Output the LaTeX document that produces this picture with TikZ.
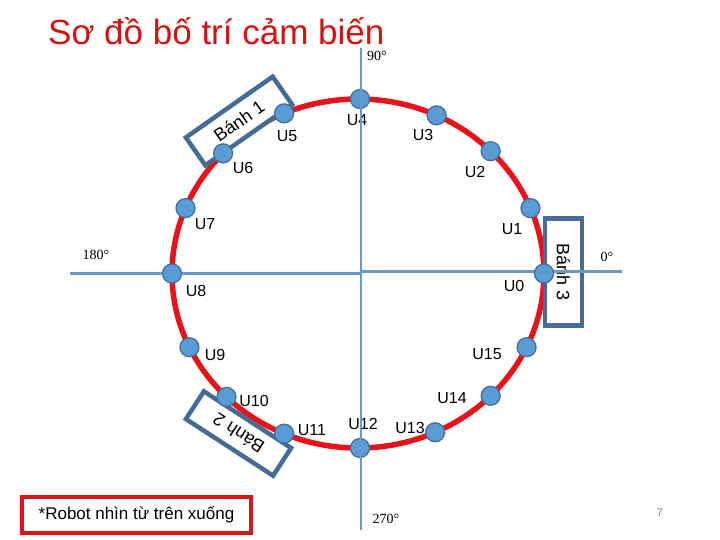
\documentclass[tikz,border=0pt]{standalone}
\usepackage{fontspec}
\setmainfont{Liberation Sans}
\newfontfamily\degfont{Liberation Serif}
\usetikzlibrary{calc}
\definecolor{ringred}{RGB}{232,18,24}
\definecolor{dotfill}{RGB}{91,155,213}
\definecolor{dotline}{RGB}{65,113,156}
\definecolor{axisblue}{RGB}{108,152,200}
\definecolor{boxblue}{RGB}{68,108,150}
\definecolor{titlered}{RGB}{212,18,18}
\definecolor{notered}{RGB}{220,20,24}
\begin{document}
\begin{tikzpicture}[x=1pt,y=-1pt,
 sensor/.style={circle,fill=dotfill,draw=dotline,line width=1.3pt,minimum size=19pt,inner sep=0pt},
 slabel/.style={font=\fontsize{16}{16}\selectfont,inner sep=0pt},
 wheel/.style={draw=boxblue,line width=4.5pt,fill=white,inner sep=0pt,font=\fontsize{18}{18}\selectfont},
 axisline/.style={draw=axisblue,line width=2.5pt},
 deg/.style={font=\degfont\fontsize{14}{14}\selectfont,inner sep=0pt}]
\useasboundingbox (0,0) rectangle (720,540);
\fill[white] (0,0) rectangle (720,540);
% ring
\draw[ringred,line width=5.5pt] (358,273.5) ellipse [x radius=186, y radius=174.5];
% wheels
\node[wheel,rotate=35,minimum width=106pt,minimum height=34pt] (b1) at (239,121) {Bánh 1};
\node[wheel,rotate=147,minimum width=104pt,minimum height=33pt] (b2) at (238.5,433.5) {Bánh 2};
\node[wheel,rotate=-90,minimum width=107pt,minimum height=37pt] (b3) at (563.5,272) {Bánh 3};
% horizontal axis
\coordinate (hl) at (70,273.5);
\coordinate (hm1) at (361,273.5);
\coordinate (hm2) at (361,271.5);
\coordinate (hr) at (622,271.5);
\draw[axisline] (hl) -- (hm1);
\draw[axisline] (hm2) -- (hr);
% sensors
\foreach \a/\i/\lx/\ly in {0/0/514/286, 22/1/512/229, 44.5/2/475/172, 65/3/423/135,
  89.4/4/357/120, 113.4/5/287/136, 136.5/6/243/168, 158/7/205/224, 180/8/196/291,
  205/9/215/355, 225/10/254/401, 246.6/11/312/430, 270.6/12/363/424, 294.5/13/410/428,
  315.5/14/452/398, 335/15/487/354}{
  \node[sensor] (s\i) at ({358+186*cos(\a)},{273.5-174.5*sin(\a)}) {};
  \node[slabel] (l\i) at (\lx,\ly) {U\i};
}
% vertical axis
\coordinate (vt) at (361,48);
\coordinate (vb) at (361,530);
\draw[axisline] (vt) -- (vb);
% degree labels
\node[deg] (d90) at (377,56) {90°};
\node[deg] (d180) at (96,255) {180°};
\node[deg] (d0) at (607,257) {0°};
\node[deg] (d270) at (386,519) {270°};
% title
\node[anchor=base west,text=titlered,font=\fontsize{35}{35}\selectfont,inner sep=0pt] (title) at (48,45) {Sơ đồ bố trí cảm biến};
% note
\node[draw=notered,line width=4pt,minimum width=229pt,minimum height=36pt,inner sep=0pt,font=\fontsize{17}{17}\selectfont] (note) at (136.5,515) {*Robot nhìn từ trên xuống};
% page number
\node[text=gray,font=\fontsize{11}{11}\selectfont,inner sep=0pt] (pg) at (660,513) {7};
\end{tikzpicture}
\end{document}
